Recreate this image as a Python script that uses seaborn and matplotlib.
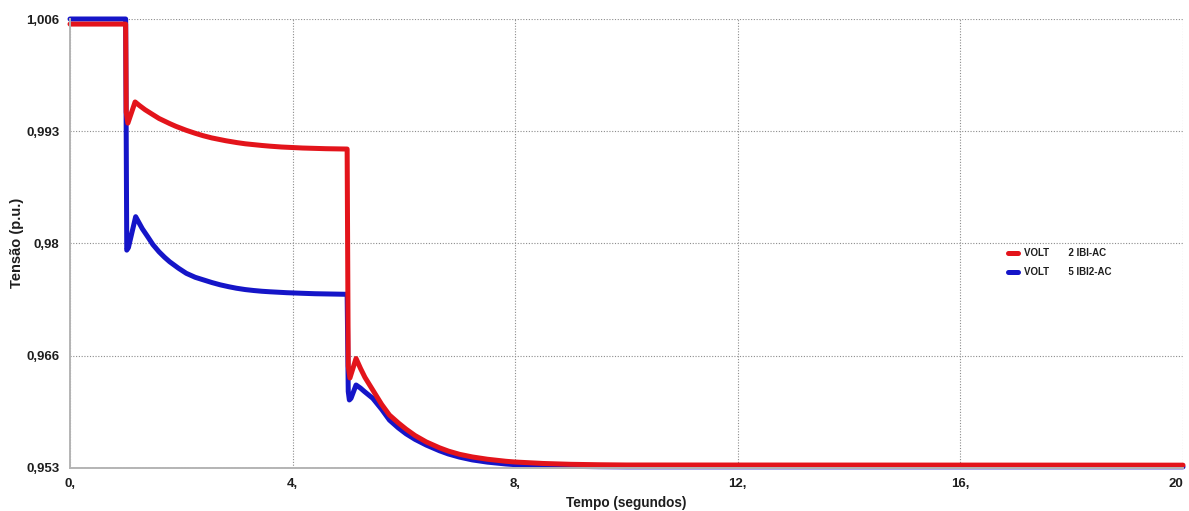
import matplotlib
matplotlib.use("Agg")
import matplotlib.pyplot as plt
import seaborn as sns
import pandas as pd

# Bus voltage (p.u.) versus simulation time (s)
t_bus2 = [0.0, 1.0, 1.01, 1.04, 1.17, 1.25, 1.35, 1.49, 1.6, 1.79, 1.9, 2.09,
          2.25, 2.39, 2.55, 2.8, 3.0, 3.15, 3.45, 3.59, 3.8, 4.18, 4.6, 4.98,
          5.0, 5.03, 5.14, 5.22, 5.3, 5.44, 5.6, 5.74, 5.9, 6.04, 6.2, 6.4,
          6.64, 6.8, 7.0, 7.23, 7.5, 7.83, 8.0, 8.5, 9.0, 9.5, 10.0, 20.0]
v_bus2 = [1.0054, 1.0054, 0.9950, 0.9937, 0.9962, 0.99577, 0.99528, 0.99470,
          0.99425, 0.99365, 0.99333, 0.99285, 0.99250, 0.99222, 0.99195,
          0.99162, 0.99140, 0.99126, 0.99106, 0.99098, 0.99088, 0.99076,
          0.99068, 0.99064, 0.9650, 0.9636, 0.9659, 0.96473, 0.96367,
          0.96218, 0.96048, 0.95922, 0.95829, 0.95755, 0.95680, 0.95605,
          0.95535, 0.95496, 0.95458, 0.95427, 0.95400, 0.95376, 0.95367,
          0.95350, 0.95340, 0.95335, 0.95332, 0.95330]

t_bus5 = [0.0, 1.0, 1.02, 1.05, 1.18, 1.3, 1.4, 1.49, 1.6, 1.7, 1.79, 1.95,
          2.09, 2.25, 2.39, 2.55, 2.7, 2.85, 2.99, 3.15, 3.3, 3.45, 3.59, 3.9,
          4.18, 4.4, 4.98, 5.0, 5.02, 5.05, 5.14, 5.22, 5.29, 5.44, 5.6, 5.74,
          5.9, 6.04, 6.2, 6.4, 6.64, 6.8, 7.0, 7.23, 7.5, 7.83, 8.0, 8.43,
          9.0, 9.5, 10.0, 20.0]
v_bus5 = [1.006, 1.006, 0.9787, 0.9790, 0.98265, 0.98122, 0.98025, 0.97935,
          0.97850, 0.97785, 0.97733, 0.97656, 0.97596, 0.97549, 0.97520,
          0.97487, 0.97460, 0.97438, 0.97420, 0.97404, 0.97393, 0.97384,
          0.97378, 0.97367, 0.97360, 0.97355, 0.97348, 0.9620, 0.9610, 0.9612,
          0.96277, 0.9624, 0.9620, 0.9612, 0.9599, 0.95863, 0.9577, 0.95700,
          0.95635, 0.95568, 0.95500, 0.95462, 0.95425, 0.95392, 0.95366,
          0.95344, 0.95336, 0.95324, 0.95316, 0.95312, 0.95310, 0.95310]

series_labels = ["VOLT       2 IBI-AC", "VOLT       5 IBI2-AC"]
series_colors = ["#e3141b", "#1515c8"]

x_ticks = [0, 4, 8, 12, 16, 20]
x_tick_labels = ["0,", "4,", "8,", "12,", "16,", "20"]
y_ticks = [0.953, 0.96625, 0.9795, 0.99275, 1.006]
y_tick_labels = ["0,953", "0,966", "0,98", "0,993", "1,006"]

sns.set_style("white")
plt.rcParams["font.family"] = ["Liberation Sans", "DejaVu Sans"]

fig = plt.figure(figsize=(11.89, 5.11), dpi=100)
ax = fig.add_axes([70 / 1189, 1 - 467.7 / 511, 1113 / 1189, 448.7 / 511])

df2 = pd.DataFrame({"t": t_bus2, "v": v_bus2})
df5 = pd.DataFrame({"t": t_bus5, "v": v_bus5})

# blue drawn first so the red trace sits on top where they overlap
sns.lineplot(data=df5, x="t", y="v", ax=ax, color=series_colors[1], lw=3.6,
             estimator=None, sort=False, label=series_labels[1], clip_on=False,
             solid_joinstyle="round")
sns.lineplot(data=df2, x="t", y="v", ax=ax, color=series_colors[0], lw=3.6,
             estimator=None, sort=False, label=series_labels[0], clip_on=False,
             solid_joinstyle="round")

ax.set_xlim(0, 20)
ax.set_ylim(0.953, 1.006)
ax.set_xticks(x_ticks)
ax.set_xticklabels(x_tick_labels)
ax.set_yticks(y_ticks)
ax.set_yticklabels(y_tick_labels)

ax.grid(True, linestyle=(0, (1, 1.5)), color="#8c8c8c", linewidth=0.8)
ax.set_axisbelow(True)

for side in ("top", "right"):
    ax.spines[side].set_visible(False)
for side in ("left", "bottom"):
    ax.spines[side].set_color("#b4b4b4")
    ax.spines[side].set_linewidth(1.4)

ax.tick_params(axis="both", which="major", length=4, width=0.8, color="#9a9a9a",
               labelsize=9.5, labelcolor="#1e1e1e", pad=3.5)
for lab in ax.get_xticklabels() + ax.get_yticklabels():
    lab.set_fontweight("bold")
# keep the last x label inside the figure edge
ax.get_xticklabels()[-1].set_horizontalalignment("right")

ax.set_xlabel("Tempo (segundos)", fontsize=9.8, fontweight="bold", color="#1e1e1e",
              labelpad=4)
ax.set_ylabel("Tensão (p.u.)", fontsize=10.5, fontweight="bold", color="#1e1e1e",
              labelpad=1.5)

handles, labels = ax.get_legend_handles_labels()
leg = ax.legend(handles[::-1], labels[::-1], loc="upper left",
                bbox_to_anchor=(0.838, 0.5005), frameon=False, fontsize=7,
                handlelength=1.1, handletextpad=0.55, labelspacing=0.95,
                borderpad=0)
for txt in leg.get_texts():
    txt.set_fontweight("bold")
    txt.set_color("#1e1e1e")

fig.savefig("out.png", dpi=100)
